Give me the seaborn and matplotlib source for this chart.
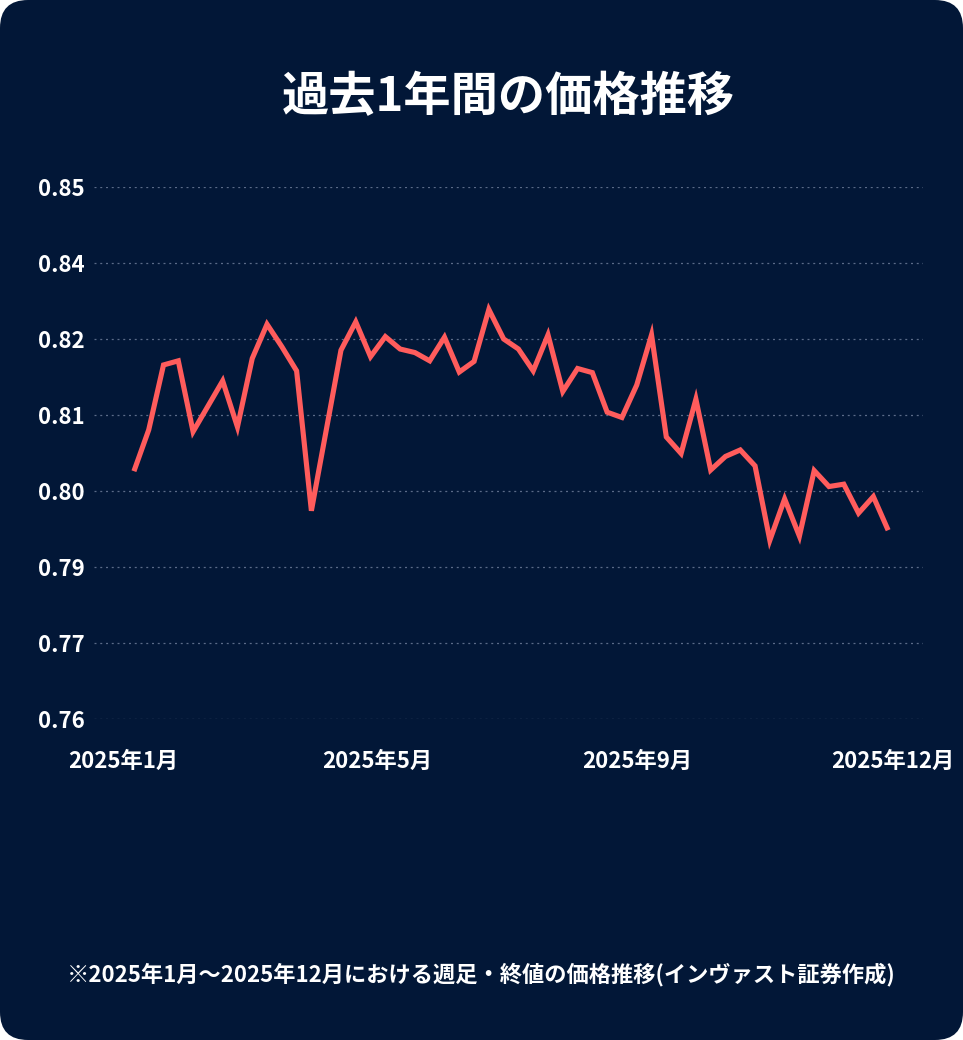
import numpy as np
import pandas as pd
import matplotlib
matplotlib.use("Agg")
import matplotlib.pyplot as plt
import matplotlib.dates as mdates
from matplotlib.patches import FancyBboxPatch
import seaborn as sns

# ---- data ----
title = "過去1年間の価格推移"
note = "※2025年1月～2025年12月における週足・終値の価格推移(インヴァスト証券作成)"
start_date = "2025-01-06"
prices = [
    0.8019, 0.8089, 0.8199, 0.8206, 0.8086, 0.8129, 0.8172, 0.8094,
    0.8210, 0.8268, 0.8230, 0.8189, 0.7952, 0.8088, 0.8224, 0.8272,
    0.8213, 0.8247, 0.8226, 0.8220, 0.8206, 0.8246, 0.8187, 0.8205,
    0.8293, 0.8243, 0.8226, 0.8189, 0.8250, 0.8154, 0.8193, 0.8186,
    0.8119, 0.8110, 0.8165, 0.8250, 0.8077, 0.8049, 0.8141, 0.8021,
    0.8044, 0.8055, 0.8028, 0.7902, 0.7972, 0.7909, 0.8020, 0.7993,
    0.7997, 0.7948, 0.7976, 0.7919,
]
xtick_dates = ["2025-01-01", "2025-05-01", "2025-09-01", "2025-12-31"]
xtick_labels = ["2025年1月", "2025年5月", "2025年9月", "2025年12月"]
y_min, y_max, n_yticks = 0.76, 0.85, 8

# ---- style ----
BG = "#021737"
LINE = "#FF5C5C"
GRID = "#5B6B88"
sns.set_style("dark")
plt.rcParams["font.family"] = ["Noto Sans CJK JP", "DejaVu Sans"]

W, H, DPI = 963, 1040, 100
fig = plt.figure(figsize=(W / DPI, H / DPI), dpi=DPI, facecolor="white")
bg = FancyBboxPatch((0, 0), W / DPI, H / DPI,
                    boxstyle="round,pad=0,rounding_size=0.28",
                    transform=fig.dpi_scale_trans, facecolor=BG,
                    edgecolor="none", zorder=-10)
fig.patches.append(bg)

left, right, top, bottom = 94, 923, 187.3, 718.5
ax = fig.add_axes([left / W, 1 - bottom / H, (right - left) / W, (bottom - top) / H])
ax.set_facecolor(BG)

df = pd.DataFrame({
    "date": pd.date_range(start_date, periods=len(prices), freq="7D"),
    "price": prices,
})
sns.lineplot(data=df, x="date", y="price", ax=ax, color=LINE, linewidth=3.7,
             solid_joinstyle="miter", solid_capstyle="butt", clip_on=False,
             zorder=5)

ax.set_ylim(y_min, y_max)
yt = np.linspace(y_min, y_max, n_yticks)
ax.set_yticks(yt)
ax.set_yticklabels([f"{v:.2f}" for v in yt])

xt = [mdates.date2num(pd.Timestamp(d)) for d in xtick_dates]
ax.set_xlim(xt[0] - 13.9, xt[-1] + 14.5)
ax.set_xticks(xt)
ax.set_xticklabels(xtick_labels)

ax.grid(False)
ax.yaxis.grid(True, color=GRID, linewidth=0.9, linestyle=(0, (1.6, 3.0)))
for s in ax.spines.values():
    s.set_visible(False)

ax.tick_params(axis="y", length=0, pad=7, labelsize=16, labelcolor="white")
ax.tick_params(axis="x", length=2.5, width=0.8, color=GRID, pad=20,
               labelsize=16, labelcolor="white", direction="out")
for lab in ax.get_xticklabels() + ax.get_yticklabels():
    lab.set_fontweight("bold")
ax.set_xlabel("")
ax.set_ylabel("")

cx = (left + right) / 2 / W
fig.text(cx, 1 - 97 / H, title, ha="center", va="center", color="white",
         fontsize=34, fontweight="bold")
fig.text(0.5, 1 - 975 / H, note, ha="center", va="center", color="white",
         fontsize=16, fontweight="bold")

fig.savefig("out.png", dpi=DPI, facecolor=fig.get_facecolor())
